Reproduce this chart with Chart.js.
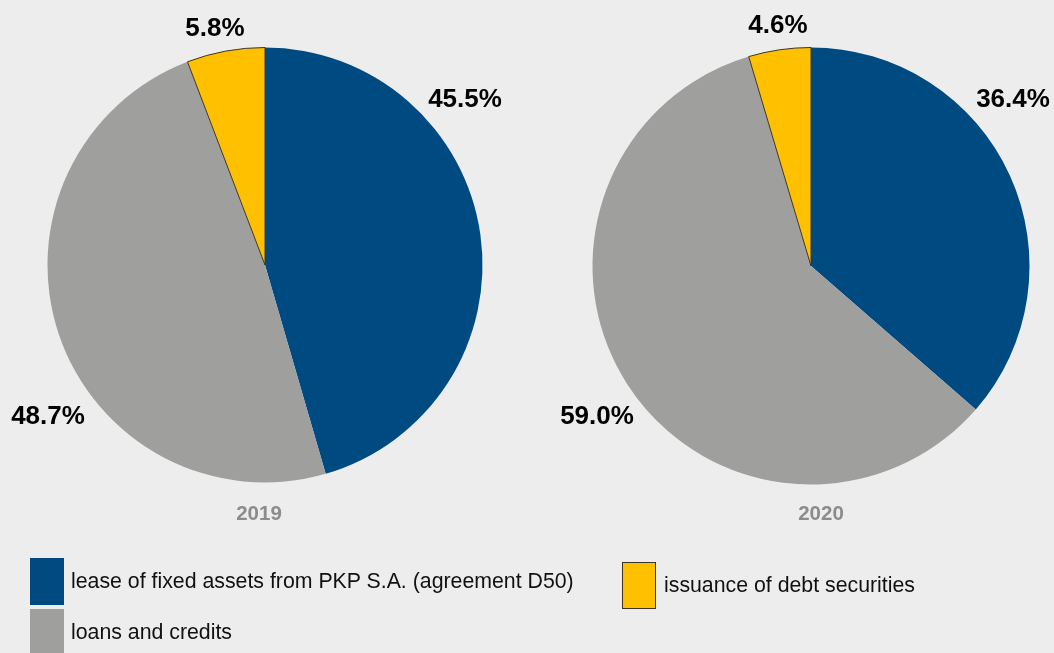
<!DOCTYPE html>
<html>
<head>
<meta charset="utf-8">
<script src="https://cdn.jsdelivr.net/npm/chart.js@4/dist/chart.umd.min.js"></script>
<style>
  html, body { margin: 0; padding: 0; background: #ededed; }
  #wrap { position: relative; width: 1054px; height: 653px; overflow: hidden; background: #ededed; font-family: "Liberation Sans", Arial, sans-serif; }
  canvas { position: absolute; left: 0; top: 0; }
  .year { position: absolute; width: 120px; text-align: center; font-weight: bold; font-size: 20.5px; color: #8c8c8c; line-height: 20px; }
  .leg { position: absolute; display: flex; align-items: center; }
  .leg .box { box-sizing: border-box; flex: none; }
  .leg .txt { font-size: 21.3px; color: #111; white-space: nowrap; }
</style>
</head>
<body>
<div id="wrap">
  <canvas id="c2019" width="1054" height="653"></canvas>
  <canvas id="c2020" width="1054" height="653"></canvas>
</div>
<script>
// ---- data ----
const categories = ["lease of fixed assets from PKP S.A. (agreement D50)", "loans and credits", "issuance of debt securities"];
const years = ["2019", "2020"];
const values2019 = [45.5, 48.7, 5.8];
const values2020 = [36.4, 59.0, 4.6];
const colors = ["#004a82", "#9f9f9d", "#ffc000"];
const borderWidths = [0, 0, 1];

// ---- layout (not data) ----
const layouts = {
  "2019": { padding: { left: 47, right: 571, top: 47, bottom: 170 }, labelOffsets: [[200, -165], [-217, 152], [-50, -236]], yearPos: [259, 503] },
  "2020": { padding: { left: 592, right: 24, top: 47, bottom: 168 }, labelOffsets: [[202, -166], [-214, 151], [-33, -240]], yearPos: [821, 503] }
};

const labelPlugin = {
  id: 'sliceLabels',
  afterDatasetsDraw(chart) {
    const ctx = chart.ctx;
    const meta = chart.getDatasetMeta(0);
    const offs = chart.options.plugins.sliceLabels.offsets;
    const data = chart.data.datasets[0].data;
    ctx.save();
    ctx.font = 'bold 26px "Liberation Sans", Arial, sans-serif';
    ctx.fillStyle = '#000';
    ctx.textAlign = 'center';
    ctx.textBaseline = 'middle';
    meta.data.forEach((arc, i) => {
      ctx.fillText(data[i].toFixed(1) + '%', arc.x + offs[i][0], arc.y + offs[i][1]);
    });
    ctx.restore();
  }
};

function makePie(id, year, values) {
  const lay = layouts[year];
  new Chart(document.getElementById(id), {
    type: 'pie',
    data: {
      labels: categories,
      datasets: [{
        data: values,
        backgroundColor: colors,
        borderColor: '#3a3526',
        borderWidth: borderWidths,
        hoverOffset: 0
      }]
    },
    options: {
      responsive: false,
      animation: false,
      layout: { padding: lay.padding },
      plugins: {
        legend: { display: false },
        tooltip: { enabled: false },
        sliceLabels: { offsets: lay.labelOffsets }
      }
    },
    plugins: [labelPlugin]
  });
  const y = document.createElement('div');
  y.className = 'year';
  y.textContent = year;
  y.style.left = (lay.yearPos[0] - 60) + 'px';
  y.style.top = lay.yearPos[1] + 'px';
  document.getElementById('wrap').appendChild(y);
}

makePie('c2019', years[0], values2019);
makePie('c2020', years[1], values2020);

// ---- HTML legend ----
const legendLayout = [
  { left: 30, top: 558, w: 34, h: 47, gap: 7, border: 'none' },
  { left: 30, top: 609, w: 34, h: 47, gap: 7, border: 'none' },
  { left: 622, top: 562, w: 34, h: 47, gap: 8, border: '1px solid #3a3526' }
];
categories.forEach((cat, i) => {
  const L = legendLayout[i];
  const d = document.createElement('div');
  d.className = 'leg';
  d.style.left = L.left + 'px';
  d.style.top = L.top + 'px';
  d.style.height = L.h + 'px';
  const b = document.createElement('div');
  b.className = 'box';
  b.style.width = L.w + 'px';
  b.style.height = L.h + 'px';
  b.style.background = colors[i];
  b.style.border = L.border;
  const t = document.createElement('span');
  t.className = 'txt';
  t.style.marginLeft = L.gap + 'px';
  t.textContent = cat;
  d.appendChild(b);
  d.appendChild(t);
  document.getElementById('wrap').appendChild(d);
});
</script>
</body>
</html>
